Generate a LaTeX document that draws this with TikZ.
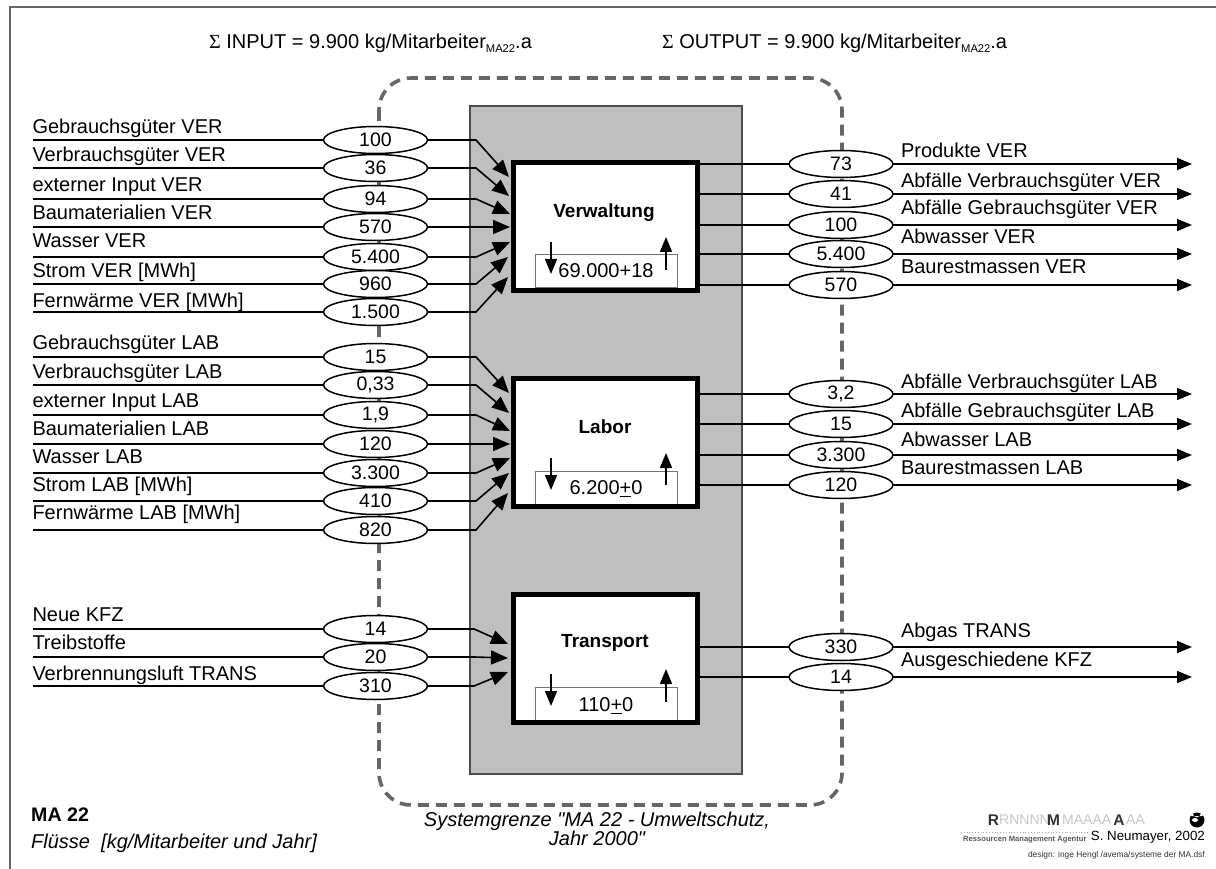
\documentclass[tikz,border=0pt]{standalone}
\usepackage{fontspec}
\setmainfont{Liberation Sans}
\newfontfamily\serifsym{Liberation Serif}
\newfontfamily\rawsans{Liberation Sans}
\usetikzlibrary{arrows.meta,shapes.geometric}
\newcommand{\fs}[1]{\fontsize{#1}{#1}\selectfont}
\newcommand{\pmu}{\leavevmode\rlap{\rule[-3pt]{\fontcharwd\font`+}{1.3pt}}+}
\newcommand{\subma}{\raisebox{-4pt}{\fs{11.2}MA22}}
\tikzset{
  x=1pt,y=-1pt,
  flowtip/.style={-{Triangle[length=17pt,width=14pt]},line width=1.6pt,black},
  outtip/.style={-{Triangle[length=15pt,width=12pt]},line width=1.6pt,black},
  flowline/.style={line width=1.6pt,black},
  smallarrow/.style={-{Triangle[length=15pt,width=12pt]},line width=1.6pt,black},
  val/.style={ellipse,draw=black,line width=1.5pt,fill=white,minimum width=104pt,minimum height=27pt,inner sep=0pt,outer sep=0pt,font=\fs{19.5}},
  lab/.style={anchor=base west,inner sep=0pt,outer sep=0pt,font=\fs{20}},
  procbox/.style={draw=black,line width=5pt,fill=white,minimum width=184pt,minimum height=128pt,inner sep=0pt,outer sep=0pt},
  proctitle/.style={inner sep=0pt,font=\fs{19}\bfseries},
  stockbox/.style={draw=black!55,line width=1pt,fill=white,inner sep=0pt,outer sep=0pt,minimum width=142pt},
  stock/.style={inner sep=0pt,font=\fs{20}},
  ghost/.style={inner sep=0pt,anchor=west,text=black!22,font=\fs{14}},
  logo/.style={inner sep=0pt,text=black!80,font=\fs{15.5}\bfseries},
}
\begin{document}
\begin{tikzpicture}
\useasboundingbox (0,0) rectangle (1216,869);
\fill[white] (0,0) rectangle (1216,869);
% frame
\draw[line width=1.2pt,black!60] (10,869) -- (10,7) -- (1216,7);
% system boundary
\draw[line width=3.6pt,black!60,dash pattern=on 11pt off 7pt,rounded corners=32pt] (379,78) rectangle (842,805);
% grey panel
\node[draw=black!70,line width=1.2pt,fill=black!25,minimum width=272pt,minimum height=668pt,inner sep=0pt,outer sep=0pt,anchor=north west] (panel) at (470,106) {};
% process boxes
\node[procbox] (VER) at (605.5,226.5) {};
\node[procbox] (LAB) at (605.5,442.5) {};
\node[procbox] (TRA) at (605.5,658.5) {};
\node[proctitle] (tVER) at (604,213) {Verwaltung};
\node[proctitle] (tLAB) at (605,427) {Labor};
\node[proctitle] (tTRA) at (605,643) {Transport};
% stock boxes
\node[stockbox,minimum height=33pt,anchor=north] (sVER) at (606,255) {};
\node[stockbox,minimum height=33pt,anchor=north] (sLAB) at (606,471) {};
\node[stockbox,minimum height=33pt,anchor=north] (sTRA) at (606,687) {};
\node[procbox,fill=none] at (605.5,226.5) {};
\node[procbox,fill=none] at (605.5,442.5) {};
\node[procbox,fill=none] at (605.5,658.5) {};
\node[stock,anchor=base] (vVER) at (606,278) {69.000+18};
\node[stock,anchor=base] (vLAB) at (606,494) {6.200\pmu 0};
\node[stock,anchor=base] (vTRA) at (606,711) {110\pmu 0};
% small arrows
\coordinate (dA1) at (551,242); \coordinate (dA2) at (551,274);
\coordinate (uA1) at (666,270); \coordinate (uA2) at (666,237);
\coordinate (dB1) at (551,458); \coordinate (dB2) at (551,490);
\coordinate (uB1) at (666,485); \coordinate (uB2) at (666,453);
\coordinate (dC1) at (551,674); \coordinate (dC2) at (551,706);
\coordinate (uC1) at (666,702); \coordinate (uC2) at (666,669);
\foreach \a/\b in {dA1/dA2,uA1/uA2,dB1/dB2,uB1/uB2,dC1/dC2,uC1/uC2}
  \draw[smallarrow] (\a) -- (\b);
% left flows
\foreach \n/\y/\v/\ly/\t/\tx/\ty/\ex in {
 a1/140/100/134/Gebrauchsgüter VER/509/177/476,
 a2/168/36/162/Verbrauchsgüter VER/509/196/476,
 a3/199/94/192/externer Input VER/510/214/476,
 a4/227/570/220/Baumaterialien VER/510/227/476,
 a5/257/5.400/248/Wasser VER/510/242/476,
 a6/284/960/278/Strom VER [MWh]/508/257/476,
 a7/312/1.500/307/Fernwärme VER [MWh]/508/277/476,
 b1/357/15/349/Gebrauchsgüter LAB/509/393/476,
 b2/385/{0,33}/378/Verbrauchsgüter LAB/509/413/476,
 b3/415/{1,9}/407/externer Input LAB/510/431/476,
 b4/444/120/435/Baumaterialien LAB/510/444/476,
 b5/473/3.300/463/Wasser LAB/510/458/476,
 b6/501/410/491/Strom LAB [MWh]/509/473/476,
 b7/530/820/519/Fernwärme LAB [MWh]/508/493/476,
 c1/629/14/621/Neue KFZ/508/644/474,
 c2/657/20/649/Treibstoffe/508/658/474,
 c3/686/310/680/Verbrennungsluft TRANS/508/672/474}{
  \node[val] (\n) at (375.5,\y) {\v};
  \node[lab] (l\n) at (32.5,\ly) {\t};
  \coordinate (s\n) at (33,\y);
  \coordinate (k\n) at (\ex,\y);
  \coordinate (e\n) at (\tx,\ty);
  \draw[flowline] (s\n) -- (\n.west);
  \draw[flowtip] (\n.east) -- (k\n) -- (e\n);
}
% right flows
\foreach \n/\y/\v/\ly/\t/\src in {
 r1/164/73/158/Produkte VER/VER,
 r2/194/41/188/Abfälle Verbrauchsgüter VER/VER,
 r3/225/100/215/Abfälle Gebrauchsgüter VER/VER,
 r4/254/5.400/244/Abwasser VER/VER,
 r5/285/570/273/Baurestmassen VER/VER,
 q1/394/{3,2}/388/Abfälle Verbrauchsgüter LAB/LAB,
 q2/424/15/417/Abfälle Gebrauchsgüter LAB/LAB,
 q3/455/3.300/446/Abwasser LAB/LAB,
 q4/485/120/474/Baurestmassen LAB/LAB,
 p1/647/330/637/Abgas TRANS/TRA,
 p2/677/14/666/Ausgeschiedene KFZ/TRA}{
  \node[val] (\n) at (841,\y) {\v};
  \node[lab] (l\n) at (901,\ly) {\t};
  \coordinate (o\n) at (1192,\y);
  \draw[flowline] (\src.east |- \n.west) -- (\n.west);
  \draw[outtip] (\n.east) -- (o\n);
}
% headers
\node[anchor=base west,inner sep=0pt,font=\fs{20}] (hIn) at (209,49) {{\serifsym Σ} INPUT = 9.900 kg/Mitarbeiter\subma.a};
\node[anchor=base west,inner sep=0pt,font=\fs{20}] (hOut) at (662,49) {{\serifsym Σ} OUTPUT = 9.900 kg/Mitarbeiter\subma.a};
% bottom texts
\node[anchor=west,inner sep=0pt,font=\fs{19.6}\bfseries] (ma) at (31,815) {MA 22};
\node[anchor=west,inner sep=0pt,font=\fs{20}\itshape] (fl) at (31,843) {Flüsse\ \ [kg/Mitarbeiter und Jahr]};
\node[align=center,inner sep=0pt,font=\fontsize{20}{18}\selectfont\rawsans\itshape] (sg) at (597,829) {Systemgrenze "MA 22 - Umweltschutz,\\Jahr 2000"};
% logo
\node[logo] (R) at (993.5,820) {R};
\node[ghost] (g1) at (999,820) {RNNNN};
\node[logo] (M) at (1053.5,820) {M};
\node[ghost] (g2) at (1062,820) {MAAAA};
\node[logo] (A) at (1119,820) {A};
\node[ghost] (g3) at (1126,820) {AA};
\draw[black!35,line width=0.8pt,dotted] (961,832) -- (1088,832);
\node[anchor=west,inner sep=0pt,text=black!65,font=\fs{7.6}\bfseries] (rm) at (963,840) {Ressourcen Management Agentur};
\node[anchor=east,inner sep=0pt,font=\fs{13.3}] (sn) at (1205,837) {S. Neumayer, 2002};
\node[anchor=east,inner sep=0pt,text=black!80,font=\fs{8.4}] (de) at (1205,855) {design: inge Hengl /avema/systeme der MA.dsf};
\fill[black] (1197,820) circle (7.5);
\fill[white] (1191,816) -- (1203,816) -- (1201,813) arc (0:180:4.2) -- cycle;
\fill[white] (1195,820) ellipse (3 and 2);
\end{tikzpicture}
\end{document}
